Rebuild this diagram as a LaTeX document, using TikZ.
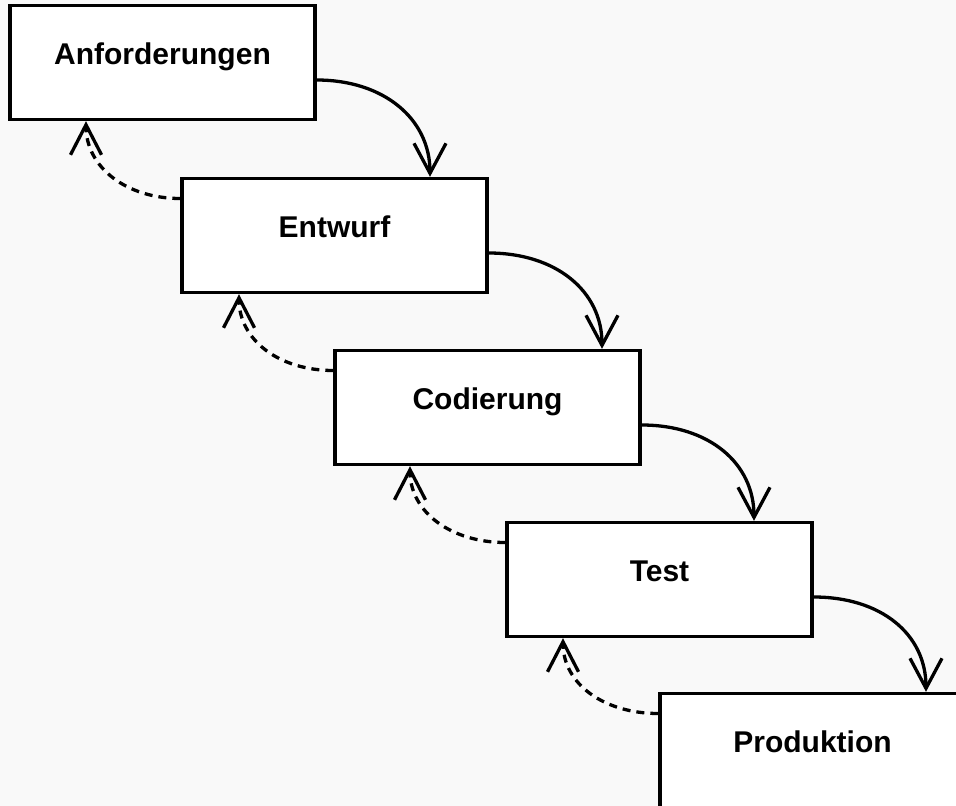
\documentclass[tikz,border=0pt]{standalone}
\usepackage{fontspec}
\setmainfont{Liberation Sans}
\usetikzlibrary{arrows.meta}
\definecolor{bgcol}{HTML}{F9F9F9}
\begin{document}
\begin{tikzpicture}[x=1pt,y=-1pt,
  phase/.style={draw=black, fill=white, line width=3.4pt, minimum width=305pt, minimum height=114pt,
    inner sep=0pt, font=\bfseries\fontsize{30}{36}\selectfont, text height=22pt, text depth=19pt},
  fwd/.style={line width=3.3pt, -{Straight Barb[length=30pt,width=32pt]}},
  back/.style={line width=3.3pt, dash pattern=on 8pt off 6pt, -{Straight Barb[length=30pt,width=31pt]}}]
\useasboundingbox (0,0) rectangle (956,806);
\fill[bgcol] (0,0) rectangle (956,806);
\clip (0,0) rectangle (956,806);
\node[phase] (a) at (162.5,62.5) {Anforderungen};
\node[phase] (b) at (334.5,235.5) {Entwurf};
\node[phase] (c) at (487.5,407.5) {Codierung};
\node[phase] (d) at (659.5,579.5) {Test};
\node[phase] (e) at (812.5,750.5) {Produktion};
% forward arrows
\draw[fwd] ([yshift=-17.5pt]a.east) .. controls +(67,0) and +(0,-58) .. ([xshift=95.5pt]b.north);
\draw[fwd] ([yshift=-17.5pt]b.east) .. controls +(67,0) and +(0,-58) .. ([xshift=114.5pt]c.north);
\draw[fwd] ([yshift=-17.5pt]c.east) .. controls +(67,0) and +(0,-58) .. ([xshift=94.5pt]d.north);
\draw[fwd] ([yshift=-17.5pt]d.east) .. controls +(67,0) and +(0,-58) .. ([xshift=113.5pt]e.north);
% feedback arrows
\draw[back] ([yshift=37pt]b.west) .. controls +(-54,0) and +(0,46) .. ([xshift=-76.5pt]a.south);
\draw[back] ([yshift=37pt]c.west) .. controls +(-54,0) and +(0,46) .. ([xshift=-95.5pt]b.south);
\draw[back] ([yshift=37pt]d.west) .. controls +(-54,0) and +(0,46) .. ([xshift=-77.5pt]c.south);
\draw[back] ([yshift=37pt]e.west) .. controls +(-54,0) and +(0,46) .. ([xshift=-96.5pt]d.south);
\end{tikzpicture}
\end{document}
